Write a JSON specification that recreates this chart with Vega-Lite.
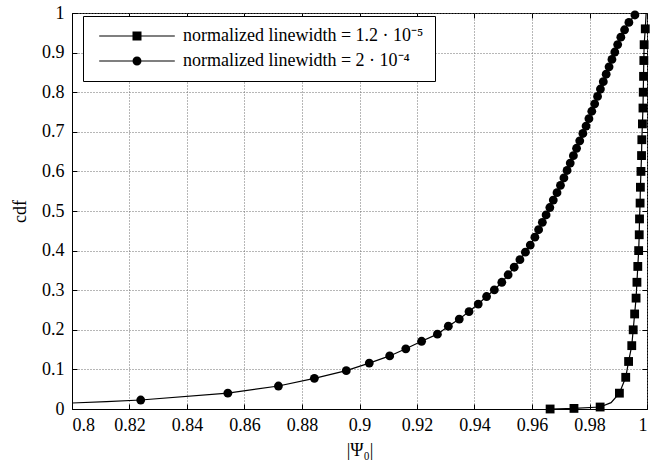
{
  "$schema": "https://vega.github.io/schema/vega-lite/v6.json",
  "width": 575,
  "height": 396,
  "autosize": "none",
  "padding": {"left": 72, "top": 13, "right": 21, "bottom": 59},
  "background": "white",
  "config": {
    "font": "Liberation Serif",
    "view": {"stroke": "#000", "strokeWidth": 1},
    "axis": {
      "labelFont": "Liberation Serif", "labelFontSize": 18, "labelColor": "#000",
      "titleFont": "Liberation Serif", "titleFontSize": 18, "titleFontWeight": "normal", "titleColor": "#000",
      "domainColor": "#000", "tickColor": "#000", "tickSize": -5,
      "gridColor": "#6e6e6e", "gridDash": [1, 2], "gridWidth": 1
    }
  },
  "data": {
    "values": [
      {"series": "normalized linewidth = 2 · 10⁻⁴", "x": 0.8, "y": 0.0152, "m": 0},
      {"series": "normalized linewidth = 2 · 10⁻⁴", "x": 0.812, "y": 0.0185, "m": 0},
      {"series": "normalized linewidth = 2 · 10⁻⁴", "x": 0.8239, "y": 0.0227, "m": 1},
      {"series": "normalized linewidth = 2 · 10⁻⁴", "x": 0.8542, "y": 0.04, "m": 1},
      {"series": "normalized linewidth = 2 · 10⁻⁴", "x": 0.8718, "y": 0.058, "m": 1},
      {"series": "normalized linewidth = 2 · 10⁻⁴", "x": 0.8843, "y": 0.0775, "m": 1},
      {"series": "normalized linewidth = 2 · 10⁻⁴", "x": 0.8954, "y": 0.0968, "m": 1},
      {"series": "normalized linewidth = 2 · 10⁻⁴", "x": 0.9034, "y": 0.116, "m": 1},
      {"series": "normalized linewidth = 2 · 10⁻⁴", "x": 0.9105, "y": 0.134, "m": 1},
      {"series": "normalized linewidth = 2 · 10⁻⁴", "x": 0.9161, "y": 0.152, "m": 1},
      {"series": "normalized linewidth = 2 · 10⁻⁴", "x": 0.9216, "y": 0.171, "m": 1},
      {"series": "normalized linewidth = 2 · 10⁻⁴", "x": 0.9271, "y": 0.189, "m": 1},
      {"series": "normalized linewidth = 2 · 10⁻⁴", "x": 0.9309, "y": 0.209, "m": 1},
      {"series": "normalized linewidth = 2 · 10⁻⁴", "x": 0.9347, "y": 0.227, "m": 1},
      {"series": "normalized linewidth = 2 · 10⁻⁴", "x": 0.9381, "y": 0.246, "m": 1},
      {"series": "normalized linewidth = 2 · 10⁻⁴", "x": 0.9413, "y": 0.265, "m": 1},
      {"series": "normalized linewidth = 2 · 10⁻⁴", "x": 0.9442, "y": 0.284, "m": 1},
      {"series": "normalized linewidth = 2 · 10⁻⁴", "x": 0.9469, "y": 0.301, "m": 1},
      {"series": "normalized linewidth = 2 · 10⁻⁴", "x": 0.9495, "y": 0.32, "m": 1},
      {"series": "normalized linewidth = 2 · 10⁻⁴", "x": 0.9517, "y": 0.339, "m": 1},
      {"series": "normalized linewidth = 2 · 10⁻⁴", "x": 0.9538, "y": 0.358, "m": 1},
      {"series": "normalized linewidth = 2 · 10⁻⁴", "x": 0.9558, "y": 0.377, "m": 1},
      {"series": "normalized linewidth = 2 · 10⁻⁴", "x": 0.9577, "y": 0.396, "m": 1},
      {"series": "normalized linewidth = 2 · 10⁻⁴", "x": 0.9594, "y": 0.414, "m": 1},
      {"series": "normalized linewidth = 2 · 10⁻⁴", "x": 0.961, "y": 0.434, "m": 1},
      {"series": "normalized linewidth = 2 · 10⁻⁴", "x": 0.9623, "y": 0.4527, "m": 1},
      {"series": "normalized linewidth = 2 · 10⁻⁴", "x": 0.9636, "y": 0.4714, "m": 1},
      {"series": "normalized linewidth = 2 · 10⁻⁴", "x": 0.9649, "y": 0.4901, "m": 1},
      {"series": "normalized linewidth = 2 · 10⁻⁴", "x": 0.9662, "y": 0.5088, "m": 1},
      {"series": "normalized linewidth = 2 · 10⁻⁴", "x": 0.9674, "y": 0.5275, "m": 1},
      {"series": "normalized linewidth = 2 · 10⁻⁴", "x": 0.9687, "y": 0.5462, "m": 1},
      {"series": "normalized linewidth = 2 · 10⁻⁴", "x": 0.9699, "y": 0.5649, "m": 1},
      {"series": "normalized linewidth = 2 · 10⁻⁴", "x": 0.9711, "y": 0.5836, "m": 1},
      {"series": "normalized linewidth = 2 · 10⁻⁴", "x": 0.9722, "y": 0.6023, "m": 1},
      {"series": "normalized linewidth = 2 · 10⁻⁴", "x": 0.9733, "y": 0.621, "m": 1},
      {"series": "normalized linewidth = 2 · 10⁻⁴", "x": 0.9744, "y": 0.6397, "m": 1},
      {"series": "normalized linewidth = 2 · 10⁻⁴", "x": 0.9755, "y": 0.6584, "m": 1},
      {"series": "normalized linewidth = 2 · 10⁻⁴", "x": 0.9766, "y": 0.6771, "m": 1},
      {"series": "normalized linewidth = 2 · 10⁻⁴", "x": 0.9777, "y": 0.6958, "m": 1},
      {"series": "normalized linewidth = 2 · 10⁻⁴", "x": 0.9788, "y": 0.7145, "m": 1},
      {"series": "normalized linewidth = 2 · 10⁻⁴", "x": 0.9798, "y": 0.7332, "m": 1},
      {"series": "normalized linewidth = 2 · 10⁻⁴", "x": 0.9808, "y": 0.7519, "m": 1},
      {"series": "normalized linewidth = 2 · 10⁻⁴", "x": 0.9818, "y": 0.7706, "m": 1},
      {"series": "normalized linewidth = 2 · 10⁻⁴", "x": 0.9828, "y": 0.7893, "m": 1},
      {"series": "normalized linewidth = 2 · 10⁻⁴", "x": 0.9838, "y": 0.808, "m": 1},
      {"series": "normalized linewidth = 2 · 10⁻⁴", "x": 0.9848, "y": 0.8267, "m": 1},
      {"series": "normalized linewidth = 2 · 10⁻⁴", "x": 0.9858, "y": 0.8454, "m": 1},
      {"series": "normalized linewidth = 2 · 10⁻⁴", "x": 0.9868, "y": 0.8641, "m": 1},
      {"series": "normalized linewidth = 2 · 10⁻⁴", "x": 0.9878, "y": 0.8828, "m": 1},
      {"series": "normalized linewidth = 2 · 10⁻⁴", "x": 0.9888, "y": 0.9015, "m": 1},
      {"series": "normalized linewidth = 2 · 10⁻⁴", "x": 0.9898, "y": 0.9202, "m": 1},
      {"series": "normalized linewidth = 2 · 10⁻⁴", "x": 0.9909, "y": 0.9389, "m": 1},
      {"series": "normalized linewidth = 2 · 10⁻⁴", "x": 0.9922, "y": 0.9576, "m": 1},
      {"series": "normalized linewidth = 2 · 10⁻⁴", "x": 0.9937, "y": 0.9763, "m": 1},
      {"series": "normalized linewidth = 2 · 10⁻⁴", "x": 0.9958, "y": 0.995, "m": 1},
      {"series": "normalized linewidth = 1.2 · 10⁻⁵", "x": 0.9663, "y": 0.0, "m": 1},
      {"series": "normalized linewidth = 1.2 · 10⁻⁵", "x": 0.9746, "y": 0.0015, "m": 1},
      {"series": "normalized linewidth = 1.2 · 10⁻⁵", "x": 0.9837, "y": 0.005, "m": 1},
      {"series": "normalized linewidth = 1.2 · 10⁻⁵", "x": 0.9875, "y": 0.016, "m": 0},
      {"series": "normalized linewidth = 1.2 · 10⁻⁵", "x": 0.9904, "y": 0.04, "m": 1},
      {"series": "normalized linewidth = 1.2 · 10⁻⁵", "x": 0.9926, "y": 0.08, "m": 1},
      {"series": "normalized linewidth = 1.2 · 10⁻⁵", "x": 0.9936, "y": 0.12, "m": 1},
      {"series": "normalized linewidth = 1.2 · 10⁻⁵", "x": 0.9947, "y": 0.16, "m": 1},
      {"series": "normalized linewidth = 1.2 · 10⁻⁵", "x": 0.9952, "y": 0.2, "m": 1},
      {"series": "normalized linewidth = 1.2 · 10⁻⁵", "x": 0.9957, "y": 0.24, "m": 1},
      {"series": "normalized linewidth = 1.2 · 10⁻⁵", "x": 0.9962, "y": 0.28, "m": 1},
      {"series": "normalized linewidth = 1.2 · 10⁻⁵", "x": 0.9965, "y": 0.32, "m": 1},
      {"series": "normalized linewidth = 1.2 · 10⁻⁵", "x": 0.9968, "y": 0.36, "m": 1},
      {"series": "normalized linewidth = 1.2 · 10⁻⁵", "x": 0.9971, "y": 0.4, "m": 1},
      {"series": "normalized linewidth = 1.2 · 10⁻⁵", "x": 0.9973, "y": 0.44, "m": 1},
      {"series": "normalized linewidth = 1.2 · 10⁻⁵", "x": 0.9974, "y": 0.48, "m": 1},
      {"series": "normalized linewidth = 1.2 · 10⁻⁵", "x": 0.9976, "y": 0.52, "m": 1},
      {"series": "normalized linewidth = 1.2 · 10⁻⁵", "x": 0.9977, "y": 0.56, "m": 1},
      {"series": "normalized linewidth = 1.2 · 10⁻⁵", "x": 0.9979, "y": 0.6, "m": 1},
      {"series": "normalized linewidth = 1.2 · 10⁻⁵", "x": 0.9981, "y": 0.64, "m": 1},
      {"series": "normalized linewidth = 1.2 · 10⁻⁵", "x": 0.9982, "y": 0.68, "m": 1},
      {"series": "normalized linewidth = 1.2 · 10⁻⁵", "x": 0.9984, "y": 0.72, "m": 1},
      {"series": "normalized linewidth = 1.2 · 10⁻⁵", "x": 0.9986, "y": 0.76, "m": 1},
      {"series": "normalized linewidth = 1.2 · 10⁻⁵", "x": 0.9987, "y": 0.8, "m": 1},
      {"series": "normalized linewidth = 1.2 · 10⁻⁵", "x": 0.9988, "y": 0.84, "m": 1},
      {"series": "normalized linewidth = 1.2 · 10⁻⁵", "x": 0.9989, "y": 0.88, "m": 1},
      {"series": "normalized linewidth = 1.2 · 10⁻⁵", "x": 0.999, "y": 0.92, "m": 1},
      {"series": "normalized linewidth = 1.2 · 10⁻⁵", "x": 0.9994, "y": 0.96, "m": 1},
      {"series": "normalized linewidth = 1.2 · 10⁻⁵", "x": 0.9997, "y": 1.0, "m": 0}
    ]
  },
  "layer": [
    {
      "mark": {"type": "line", "color": "#000", "strokeWidth": 1.2},
      "encoding": {
        "x": {
          "field": "x", "type": "quantitative",
          "scale": {"domain": [0.8, 1], "nice": false, "zero": false},
          "axis": {
            "orient": "bottom",
            "values": [0.8, 0.82, 0.84, 0.86, 0.88, 0.9, 0.92, 0.94, 0.96, 0.98, 1],
            "format": "~g", "title": "|Ψ₀|", "labelPadding": 12, "titlePadding": 7, "grid": true,
            "labelFont": "Liberation Serif", "labelFontSize": 18, "labelColor": "#000",
            "titleFont": "Liberation Serif", "titleFontSize": 18, "titleFontWeight": "normal", "titleColor": "#000",
            "gridColor": "#6e6e6e", "gridDash": [1, 2], "tickSize": -5, "tickColor": "#000", "domainColor": "#000"
          }
        },
        "y": {
          "field": "y", "type": "quantitative",
          "scale": {"domain": [0, 1], "nice": false, "zero": false},
          "axis": {
            "orient": "left",
            "values": [0, 0.1, 0.2, 0.3, 0.4, 0.5, 0.6, 0.7, 0.8, 0.9, 1],
            "format": "~g", "title": "cdf", "labelPadding": 13, "titlePadding": 12, "grid": true,
            "labelFont": "Liberation Serif", "labelFontSize": 18, "labelColor": "#000",
            "titleFont": "Liberation Serif", "titleFontSize": 18, "titleFontWeight": "normal", "titleColor": "#000",
            "gridColor": "#6e6e6e", "gridDash": [1, 2], "tickSize": -5, "tickColor": "#000", "domainColor": "#000"
          }
        },
        "detail": {"field": "series", "type": "nominal"}
      }
    },
    {
      "transform": [{"filter": "datum.m == 1"}],
      "mark": {"type": "point", "filled": true, "color": "#000", "opacity": 1, "size": 78, "strokeWidth": 0},
      "encoding": {
        "x": {
          "field": "x", "type": "quantitative",
          "axis": {
            "orient": "top",
            "values": [0.8, 0.82, 0.84, 0.86, 0.88, 0.9, 0.92, 0.94, 0.96, 0.98, 1],
            "labels": false, "title": null, "grid": false, "domain": false, "tickSize": -5, "tickColor": "#000"
          }
        },
        "y": {
          "field": "y", "type": "quantitative",
          "axis": {
            "orient": "right",
            "values": [0, 0.1, 0.2, 0.3, 0.4, 0.5, 0.6, 0.7, 0.8, 0.9, 1],
            "labels": false, "title": null, "grid": false, "domain": false, "tickSize": -5, "tickColor": "#000"
          }
        },
        "shape": {
          "field": "series", "type": "nominal",
          "scale": {
            "domain": ["normalized linewidth = 1.2 · 10⁻⁵", "normalized linewidth = 2 · 10⁻⁴"],
            "range": ["square", "circle"]
          },
          "legend": null
        }
      }
    },
    {
      "transform": [{"filter": "datum.m == 5"}],
      "mark": {"type": "point", "filled": true, "color": "#000", "opacity": 1, "size": 81},
      "encoding": {
        "x": {"field": "x", "type": "quantitative", "axis": null},
        "y": {"field": "y", "type": "quantitative", "axis": null},
        "shape": {
          "field": "series", "type": "nominal",
          "scale": {
            "domain": ["normalized linewidth = 1.2 · 10⁻⁵", "normalized linewidth = 2 · 10⁻⁴"],
            "range": ["M-1,-1H1V1H-1ZM-8.4,-0.13H8.4V0.13H-8.4Z", "M1,0A1,1,0,1,1,-1,0A1,1,0,1,1,1,0ZM-8.4,-0.13H8.4V0.13H-8.4Z"]
          },
          "legend": {
            "orient": "none", "legendX": 11, "legendY": 3, "title": null, "direction": "vertical",
            "fillColor": "#fff", "strokeColor": "#000", "padding": 11, "rowPadding": 7,
            "symbolSize": 81, "symbolOffset": 34, "labelOffset": 37,
            "labelFont": "Liberation Serif", "labelFontSize": 18, "labelColor": "#000", "labelLimit": 0,
            "symbolFillColor": "#000", "symbolStrokeWidth": 0
          }
        }
      }
    }
  ],
  "resolve": {"axis": {"x": "independent", "y": "independent"}, "scale": {"shape": "independent"}}
}
